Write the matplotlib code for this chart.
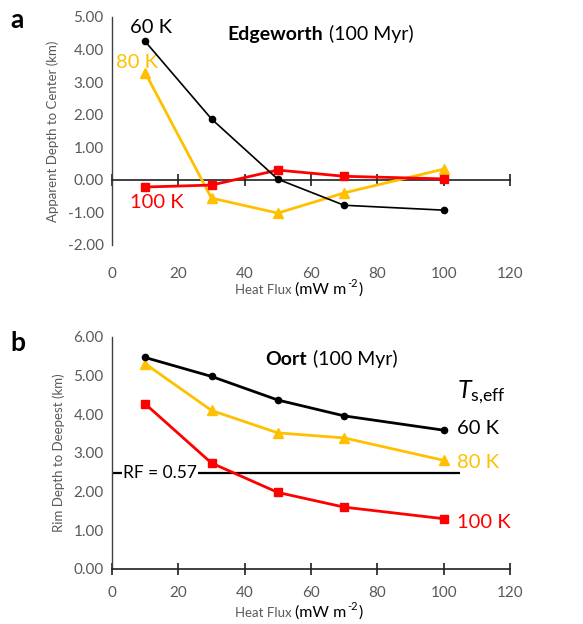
import numpy as np
import matplotlib
matplotlib.use('Agg')
import matplotlib.pyplot as plt
from matplotlib.ticker import FormatStrFormatter

# heat flux (mW m-2)
heat_flux = [10, 30, 50, 70, 100]

# a: Edgeworth, apparent depth to center (km)
edge_60k = [4.25, 1.87, 0.02, -0.78, -0.93]
edge_80k = [3.29, -0.56, -1.02, -0.40, 0.33]
edge_100k = [-0.22, -0.16, 0.30, 0.11, 0.03]

# b: Oort, rim depth to deepest (km)
oort_60k = [5.47, 4.98, 4.37, 3.96, 3.59]
oort_80k = [5.31, 4.10, 3.52, 3.39, 2.81]
oort_100k = [4.27, 2.74, 1.98, 1.60, 1.30]
rf_level = 2.49
rf_label = 'RF = 0.57'

x_ticks = [0, 20, 40, 60, 80, 100, 120]
ya_ticks = [-2, -1, 0, 1, 2, 3, 4, 5]
yb_ticks = [0, 1, 2, 3, 4, 5, 6]

BLACK = '#000000'
GOLD = '#FFC000'
RED = '#FF0000'
GRAY = '#595959'

plt.rcParams['font.family'] = ['Lato', 'DejaVu Sans']
plt.rcParams['axes.unicode_minus'] = False
plt.rcParams['mathtext.fontset'] = 'custom'
plt.rcParams['mathtext.rm'] = 'Lato'
plt.rcParams['mathtext.it'] = 'Lato:italic'

W, H = 583, 624
fig = plt.figure(figsize=(W / 100, H / 100), dpi=100)


def px_axes(left, top, right, bottom):
    return fig.add_axes([left / W, 1 - bottom / H, (right - left) / W, (bottom - top) / H])


def style(ax, yticks):
    ax.set_xlim(0, 120)
    ax.set_xticks(x_ticks)
    ax.set_yticks(yticks)
    ax.set_ylim(yticks[0], yticks[-1])
    ax.yaxis.set_major_formatter(FormatStrFormatter('%.2f'))
    for s in ['top', 'right']:
        ax.spines[s].set_visible(False)
    ax.spines['left'].set_color('#404040')
    ax.spines['bottom'].set_color('#202020')
    ax.spines['left'].set_linewidth(1.0)
    ax.spines['bottom'].set_linewidth(1.2)
    ax.tick_params(axis='y', length=0, labelsize=11, labelcolor=GRAY, pad=6)
    ax.tick_params(axis='x', direction='inout', length=8, width=1.2, color='#202020',
                   labelsize=11, labelcolor=GRAY)
    ax.patch.set_alpha(0)


def flux_label(y_px):
    # "Heat Flux" small and grey, "(mW m-2)" larger and black, as in the original
    fig.text(292 / W, 1 - y_px / H, 'Heat Flux', color=GRAY, fontsize=9.5,
             ha='right', va='center')
    t2 = fig.text(295 / W, 1 - y_px / H, '(mW m', color=BLACK, fontsize=11.5,
                  ha='left', va='center')
    sup = fig.add_artist(matplotlib.text.Annotation(
        '-2', xy=(1, 0.55), xycoords=t2, xytext=(0.5, 0), textcoords='offset points',
        fontsize=8, color=BLACK, ha='left', va='bottom', annotation_clip=False))
    fig.add_artist(matplotlib.text.Annotation(
        ')', xy=(1, 0), xycoords=(sup, t2), xytext=(0.5, 0), textcoords='offset points',
        fontsize=11.5, color=BLACK, ha='left', va='bottom', annotation_clip=False))


# ---- panel a ----
ax1 = px_axes(112, 17, 510, 245)
style(ax1, ya_ticks)
ax1.spines['bottom'].set_position(('data', 0))
ax1.tick_params(axis='x', labelbottom=False)
sec = ax1.secondary_xaxis(0.0)
sec.set_xticks(x_ticks)
sec.spines['bottom'].set_visible(False)
sec.tick_params(axis='x', length=0, labelsize=11, labelcolor=GRAY, pad=16)

ax1.plot(heat_flux, edge_60k, color=BLACK, lw=1.2, marker='o', ms=4.5, zorder=4)
ax1.plot(heat_flux, edge_80k, color=GOLD, lw=2.0, marker='^', ms=7.5, zorder=3)
ax1.plot(heat_flux, edge_100k, color=RED, lw=2.0, marker='s', ms=6, zorder=3)

ax1.set_ylabel('Apparent Depth to Center (km)', color=GRAY, fontsize=9.5, labelpad=6)
ax1.text(0.53, 0.925, 'Edgeworth', transform=ax1.transAxes, fontsize=14, fontweight='bold',
         ha='right', va='center')
ax1.text(0.545, 0.925, '(100 Myr)', transform=ax1.transAxes, fontsize=14, ha='left', va='center')
ax1.text(0.045, 0.955, '60 K', transform=ax1.transAxes, fontsize=14.5, color=BLACK, va='center')
ax1.text(0.01, 0.80, '80 K', transform=ax1.transAxes, fontsize=14.5, color=GOLD, va='center')
ax1.text(0.045, 0.185, '100 K', transform=ax1.transAxes, fontsize=14.5, color=RED, va='center')

flux_label(290)
fig.text(10 / W, 1 - 20 / H, 'a', fontsize=19, fontweight='bold', ha='left', va='center')

# ---- panel b ----
ax2 = px_axes(112, 337, 510, 569)
style(ax2, yb_ticks)
ax2.tick_params(axis='x', pad=8)

ax2.hlines(rf_level, 0, 105, color=BLACK, lw=1.6, zorder=2)
ax2.text(14.5, rf_level, rf_label, fontsize=12.5, ha='center', va='center', zorder=5,
         bbox=dict(facecolor='white', edgecolor='none', pad=1.0))

ax2.plot(heat_flux, oort_60k, color=BLACK, lw=2.0, marker='o', ms=4.5, zorder=4)
ax2.plot(heat_flux, oort_80k, color=GOLD, lw=2.0, marker='^', ms=7.5, zorder=3)
ax2.plot(heat_flux, oort_100k, color=RED, lw=2.0, marker='s', ms=6, zorder=3)

ax2.set_ylabel('Rim Depth to Deepest (km)', color=GRAY, fontsize=9.5, labelpad=6)
ax2.text(0.49, 0.905, 'Oort', transform=ax2.transAxes, fontsize=14, fontweight='bold',
         ha='right', va='center')
ax2.text(0.505, 0.905, '(100 Myr)', transform=ax2.transAxes, fontsize=14, ha='left', va='center')

fig.text(457 / W, 1 - 392 / H, r'$T_{\mathrm{s{,}eff}}$', fontsize=18, ha='left', va='center')
fig.text(457 / W, 1 - 429 / H, '60 K', fontsize=14.5, color=BLACK, ha='left', va='center')
fig.text(457 / W, 1 - 462 / H, '80 K', fontsize=14.5, color=GOLD, ha='left', va='center')
fig.text(457 / W, 1 - 522 / H, '100 K', fontsize=14.5, color=RED, ha='left', va='center')

flux_label(613)
fig.text(10 / W, 1 - 343 / H, 'b', fontsize=19, fontweight='bold', ha='left', va='center')

fig.savefig('out.png', dpi=100, facecolor='white')
